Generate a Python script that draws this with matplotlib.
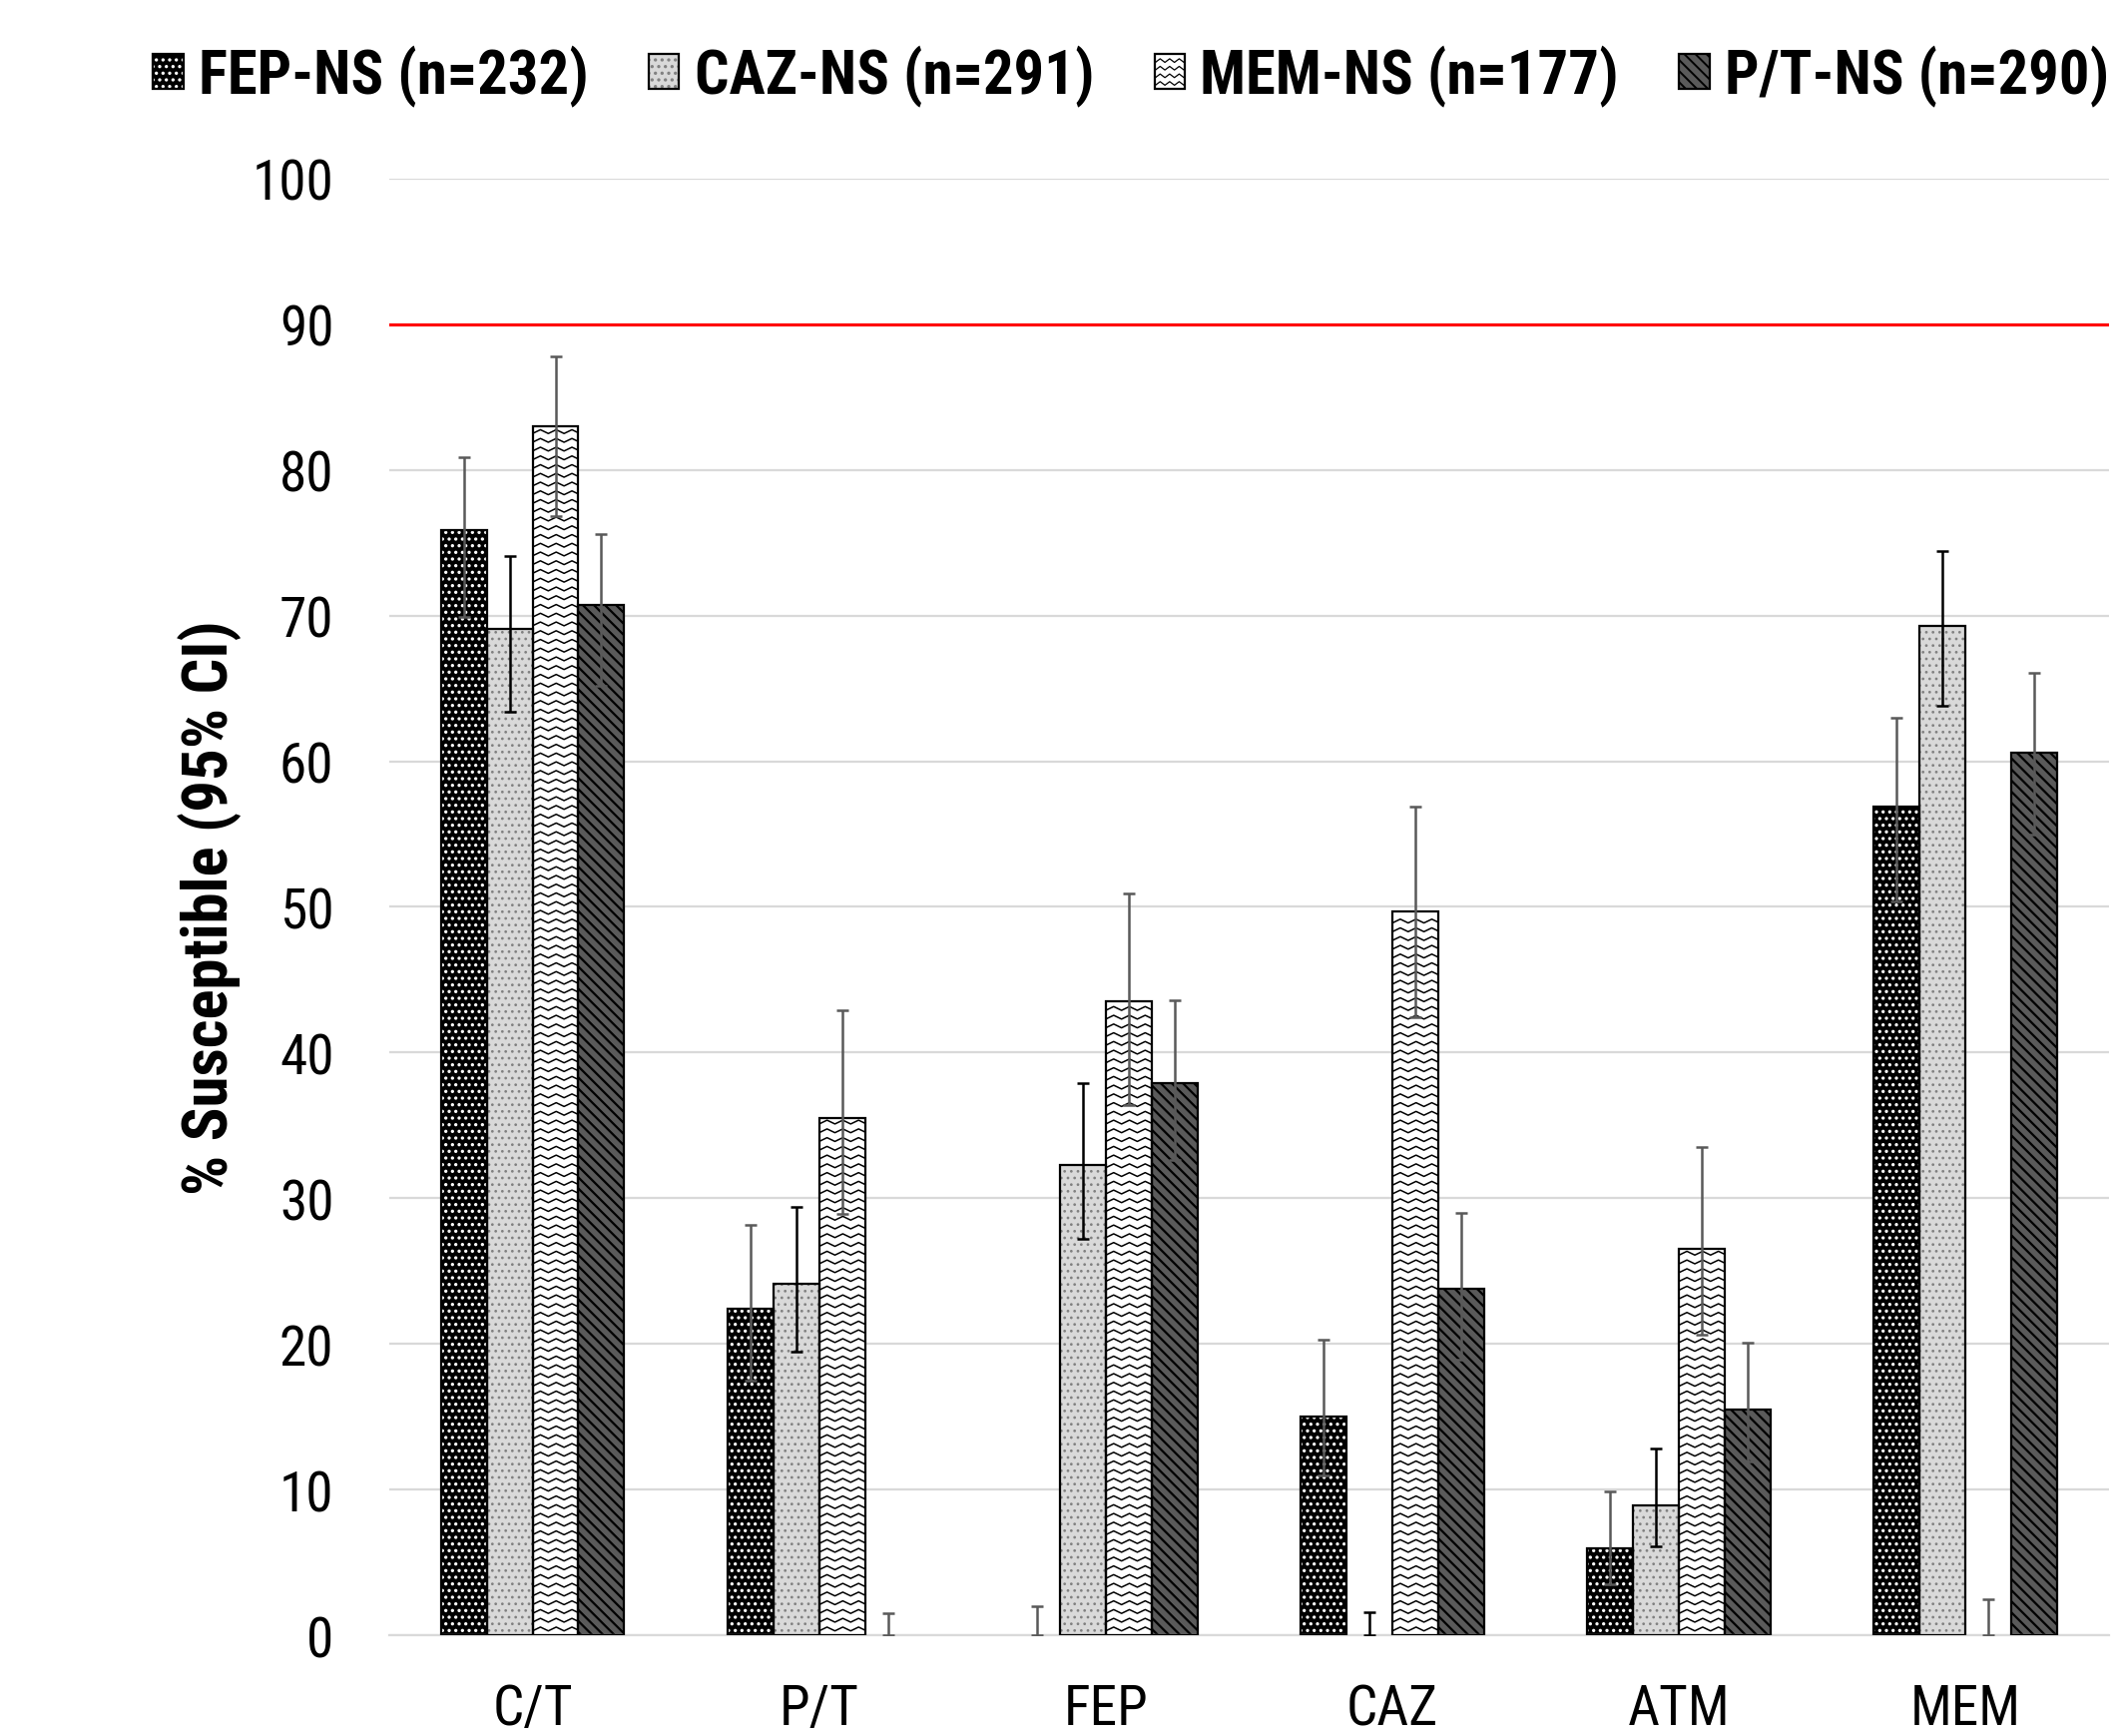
import numpy as np
import matplotlib
matplotlib.use('Agg')
import matplotlib.pyplot as plt
from matplotlib import font_manager
from matplotlib.patches import Patch, Rectangle
from matplotlib.lines import Line2D
from matplotlib.collections import LineCollection

# Данные
drugs = ['C/T', 'P/T', 'FEP', 'CAZ', 'ATM', 'MEM']
series = ['FEP-NS (n=232)', 'CAZ-NS (n=291)', 'MEM-NS (n=177)', 'P/T-NS (n=290)']

fep_ns = [75.9, 22.4, 0.0, 15.0, 6.0, 56.9]
fep_ns_lo = [69.9, 17.5, 0.0, 11.0, 3.5, 50.4]
fep_ns_hi = [80.9, 28.2, 2.0, 20.3, 9.9, 63.0]

caz_ns = [69.1, 24.1, 32.3, 0.0, 8.9, 69.3]
caz_ns_lo = [63.4, 19.5, 27.2, 0.0, 6.1, 63.8]
caz_ns_hi = [74.1, 29.4, 37.9, 1.6, 12.8, 74.4]

mem_ns = [83.0, 35.5, 43.5, 49.7, 26.5, 0.0]
mem_ns_lo = [76.8, 28.9, 36.4, 42.4, 20.6, 0.0]
mem_ns_hi = [87.8, 42.9, 50.9, 56.9, 33.5, 2.5]

pt_ns = [70.7, 0.0, 37.9, 23.8, 15.5, 60.6]
pt_ns_lo = [65.2, 0.0, 32.6, 18.9, 11.9, 55.0]
pt_ns_hi = [75.6, 1.5, 43.6, 29.0, 20.1, 66.1]

target = 90

# Ищем узкий шрифт (как Arial Narrow), если его нет - обычный
family, stretch = 'Liberation Sans', 'normal'
pref = ['Liberation Sans Narrow', 'Arial Narrow', 'Roboto Condensed', 'Open Sans Condensed',
        'Noto Sans', 'Roboto', 'Open Sans', 'DejaVu Sans']
found = False
for fam in pref:
    for f in font_manager.fontManager.ttflist:
        if f.name == fam and ('Narrow' in fam or 'Condensed' in fam or 'condensed' in str(f.stretch)):
            family, stretch = fam, f.stretch
            found = True
            break
    if found:
        break

plt.rcParams['font.family'] = [family, 'Liberation Sans', 'DejaVu Sans']
plt.rcParams['font.stretch'] = stretch
plt.rcParams['hatch.linewidth'] = 0.7

fig = plt.figure(figsize=(10.62, 8.7), dpi=200)
ax = fig.add_axes([0.1836, 0.058, 0.8112, 0.8386])
renderer = fig.canvas.get_renderer()


def fit_size(text, target_px, weight='normal', max_size=26):
    #Подбирает размер шрифта так, чтобы ширина текста была target_px
    t = fig.text(0, 0, text, fontsize=20, fontweight=weight)
    w = t.get_window_extent(renderer).width
    t.remove()
    return min(max_size, 20 * target_px / w)


tick_size = fit_size('100', 82, max_size=23)
legend_size = fit_size(series[0], 390, weight='bold', max_size=24.5)
ylabel_size = fit_size('% Susceptible (95% CI)', 576, weight='bold', max_size=25)

x = np.arange(len(drugs))
width = 0.16


def add_waves(ax, rect, row=0.6, amp=0.26, period=0.055):
    #Волнистая штриховка внутри столбика
    h = rect.get_height()
    if h <= 0:
        return
    x0 = rect.get_x()
    x1 = x0 + rect.get_width()
    xs = np.arange(x0 - period, x1 + period, period / 2)
    segs = []
    for yb in np.arange(row / 2, h - amp - 0.1, row):
        ys = yb + amp * (np.arange(len(xs)) % 2)
        segs.append(np.column_stack([xs, ys]))
    lc = LineCollection(segs, colors='black', linewidths=0.55, zorder=2.1)
    ax.add_collection(lc, autolim=False)
    lc.set_clip_path(rect)  # после add_collection, иначе обрезка по осям


styles = [
    # facecolor, hatch color, hatch, hatch lw, error color
    ('black', 'white', '.....', 0.7, '#595959'),
    ('#d9d9d9', '#808080', '.....', 0.5, 'black'),
    ('white', 'white', None, 0.5, '#595959'),
    ('#5a5a5a', 'black', '\\' * 6, 0.8, '#595959'),
]

data = [(fep_ns, fep_ns_lo, fep_ns_hi), (caz_ns, caz_ns_lo, caz_ns_hi),
        (mem_ns, mem_ns_lo, mem_ns_hi), (pt_ns, pt_ns_lo, pt_ns_hi)]

for i, ((vals, lo, hi), (fc, hc, hatch, hlw, ec)) in enumerate(zip(data, styles)):
    vals = np.array(vals)
    lo = np.array(lo)
    hi = np.array(hi)
    pos = x + (i - 1.5) * width
    fill = ax.bar(pos, vals, width, color=fc, edgecolor=hc, hatch=hatch, linewidth=0, zorder=2)
    for b in fill:
        if hasattr(b, 'set_hatch_linewidth'):
            b.set_hatch_linewidth(hlw)
    if i == 2:
        for b in fill:
            add_waves(ax, b)
    outline = ax.bar(pos, vals, width, fill=False, edgecolor='black', linewidth=0.8, zorder=3)
    for b, v in zip(outline, vals):
        if v == 0:
            b.set_visible(False)
    ax.errorbar(pos, vals, yerr=[vals - lo, hi - vals], fmt='none', ecolor=ec,
                elinewidth=0.9, capsize=2.3, capthick=0.9, zorder=5)

ax.axhline(target, color='red', linewidth=1.1, zorder=4)

ax.set_xlim(-0.5, len(drugs) - 0.5)
ax.set_ylim(0, 100)
ax.set_yticks(np.arange(0, 101, 10))
ax.set_xticks(x)
ax.set_xticklabels(drugs)
ax.yaxis.grid(True, color='#d9d9d9', linewidth=0.8, zorder=0)
ax.set_axisbelow(True)
for s in ['left', 'right', 'top']:
    ax.spines[s].set_visible(False)
ax.spines['bottom'].set_color('#d9d9d9')
ax.spines['bottom'].set_linewidth(0.8)
ax.tick_params(axis='y', length=0, pad=20, labelsize=tick_size)
ax.tick_params(axis='x', length=0, pad=17, labelsize=tick_size)

ax.set_ylabel('% Susceptible (95% CI)', fontsize=ylabel_size, fontweight='bold')
ax.yaxis.set_label_coords(-0.086, 0.5)


class BoxHandler:
    #Квадратик легенды: заливка со штриховкой + черная рамка
    def __init__(self, fc, hc, hatch, waves=False):
        self.fc, self.hc, self.hatch, self.waves = fc, hc, hatch, waves

    def legend_artist(self, legend, orig_handle, fontsize, handlebox):
        x0, y0 = -handlebox.xdescent, -handlebox.ydescent
        w, h = handlebox.width, handlebox.height
        tr = handlebox.get_transform()
        box = Rectangle((x0, y0), w, h, facecolor=self.fc, edgecolor=self.hc,
                        hatch=self.hatch, lw=0, transform=tr)
        handlebox.add_artist(box)
        if self.waves:
            xs = np.linspace(x0 + 0.3, x0 + w - 0.3, 7)
            for yb in np.linspace(y0 + 1.2, y0 + h - 3.0, 4):
                ys = yb + 1.3 * (np.arange(len(xs)) % 2)
                handlebox.add_artist(Line2D(xs, ys, color='black', lw=0.45, transform=tr))
        frame = Rectangle((x0, y0), w, h, fill=False, edgecolor='black', lw=0.8, transform=tr)
        handlebox.add_artist(frame)
        return frame


handles = [Patch() for _ in series]
handlers = [BoxHandler(*s[:3], waves=(k == 2)) for k, s in enumerate(styles)]

fig.legend(handles, series, loc='center', bbox_to_anchor=(0.5335, 0.956),
           ncol=4, frameon=False, handlelength=0.5, handleheight=0.5, handletextpad=0.25,
           columnspacing=1.0, prop={'size': legend_size, 'weight': 'bold'},
           handler_map=dict(zip(handles, handlers)))

fig.savefig('out.png', dpi=200)
